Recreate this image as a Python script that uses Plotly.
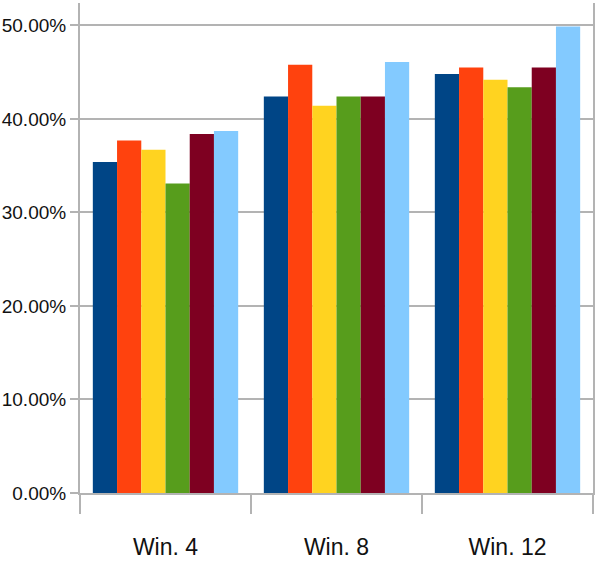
import plotly.graph_objects as go

categories = ["Win. 4", "Win. 8", "Win. 12"]
series_names = ["S1", "S2", "S3", "S4", "S5", "S6"]
series_values = [
    [35.4, 42.4, 44.8],
    [37.7, 45.8, 45.5],
    [36.7, 41.4, 44.2],
    [33.1, 42.4, 43.4],
    [38.4, 42.4, 45.5],
    [38.7, 46.1, 49.9],
]
colors = ["#004586", "#ff420e", "#ffd320", "#579d1c", "#7e0021", "#83caff"]
y_tickvals = [0, 10, 20, 30, 40, 50]
y_ticktext = ["0.00%", "10.00%", "20.00%", "30.00%", "40.00%", "50.00%"]

FONT = "Liberation Sans Narrow, Arial Narrow, Liberation Sans, Arial, sans-serif"
GRID = "#b3b3b3"

fig = go.Figure()
for name, vals, col in zip(series_names, series_values, colors):
    fig.add_trace(go.Bar(x=categories, y=vals, name=name,
                         marker=dict(color=col, line=dict(width=0))))

fig.update_layout(
    width=600, height=567,
    margin=dict(l=80, r=7, t=3, b=74),
    barmode="group", bargap=0.15, bargroupgap=0,
    showlegend=False,
    plot_bgcolor="white", paper_bgcolor="white",
    font=dict(family=FONT, size=19, color="#111"),
)
fig.update_xaxes(
    automargin=False,
    showline=True, linecolor=GRID, linewidth=2,
    ticks="outside", tickson="boundaries", ticklen=19, tickcolor=GRID, tickwidth=2,
    ticklabelstandoff=32,
    showgrid=False, tickfont=dict(family=FONT, size=23, color="#111"),
)
fig.update_yaxes(
    automargin=False,
    range=[0, 52.4], tickvals=y_tickvals, ticktext=y_ticktext,
    showgrid=True, gridcolor=GRID, gridwidth=2,
    showline=True, linecolor=GRID, linewidth=2, mirror=True,
    ticks="outside", ticklen=8, tickcolor=GRID, tickwidth=2,
    zeroline=False, tickfont=dict(family=FONT, size=19, color="#111"),
)

fig.write_html("out.html",
               config={"displayModeBar": False, "staticPlot": True},
               post_script="document.body.style.margin='0';document.body.style.padding='0';")
